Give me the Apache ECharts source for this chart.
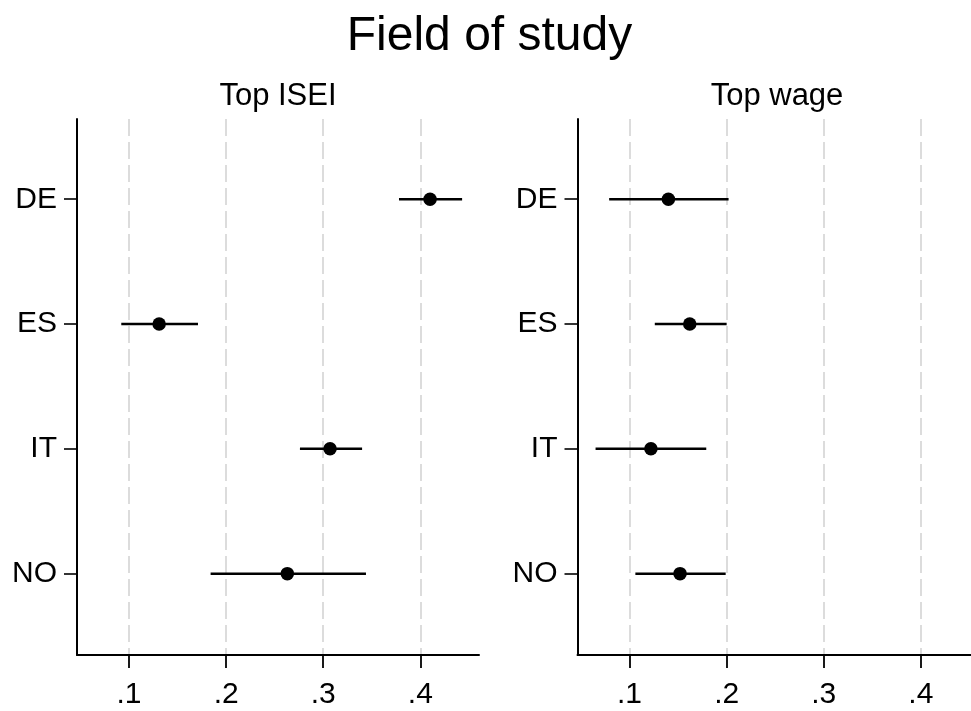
<!DOCTYPE html>
<html>
<head>
<meta charset="utf-8">
<script src="https://cdn.jsdelivr.net/npm/echarts@6/dist/echarts.min.js"></script>
<style>
  html, body { margin: 0; padding: 0; background: #fff; }
  #chart { width: 971px; height: 711px; }
</style>
</head>
<body>
<div id="chart"></div>
<script>
// ---- data ----
const categories = ['DE', 'ES', 'IT', 'NO'];
const panelTitles = ['Top ISEI', 'Top wage'];
const xTicks = [0.1, 0.2, 0.3, 0.4];
const xTickLabels = ['.1', '.2', '.3', '.4'];

const iseiPoint = [0.410, 0.131, 0.307, 0.263];
const iseiLow   = [0.378, 0.092, 0.276, 0.184];
const iseiHigh  = [0.443, 0.171, 0.340, 0.344];

const wagePoint = [0.140, 0.162, 0.122, 0.152];
const wageLow   = [0.079, 0.126, 0.065, 0.106];
const wageHigh  = [0.202, 0.200, 0.179, 0.199];

// ---- chart ----
const FONT = 'Liberation Sans, Arial, Helvetica, sans-serif';
const catPos = categories.map((c, i) => i + 1);

function pts(vals) { return vals.map((v, i) => [v, catPos[i]]); }
function cis(lo, hi) { return lo.map((l, i) => [l, hi[i], catPos[i]]); }

function ciRender(params, api) {
  const a = api.coord([api.value(0), api.value(2)]);
  const b = api.coord([api.value(1), api.value(2)]);
  return {
    type: 'line',
    shape: { x1: a[0], y1: a[1], x2: b[0], y2: b[1] },
    style: { stroke: '#000', lineWidth: 2.5 }
  };
}

const grids = [
  { left: 77, top: 119, width: 402, height: 536, containLabel: false, outerBoundsMode: 'none' },
  { left: 577.5, top: 119, width: 402, height: 536, containLabel: false, outerBoundsMode: 'none' }
];

function xAxisOf(idx) {
  return {
    type: 'value', gridIndex: idx, min: 0.0464, max: 0.4604,
    axisLine: { show: true, onZero: false, lineStyle: { color: '#000', width: 2 } },
    axisTick: { show: true, length: 13, customValues: xTicks, lineStyle: { color: '#000', width: 1.8 } },
    axisLabel: {
      customValues: xTicks, margin: 40, verticalAlign: 'middle',
      fontFamily: FONT, fontSize: 30, color: '#000',
      formatter: v => xTickLabels[xTicks.findIndex(t => Math.abs(t - v) < 1e-9)] || ''
    },
    splitLine: { show: true, lineStyle: { color: '#dcdcdc', width: 2, type: [17, 6] } }
  };
}
function yAxisOf(idx) {
  return {
    type: 'value', gridIndex: idx, min: 0.357, max: 4.652, inverse: true,
    axisLine: { show: true, onZero: false, lineStyle: { color: '#000', width: 2 } },
    axisTick: { show: true, length: 13, customValues: catPos, lineStyle: { color: '#000', width: 1.6 } },
    axisLabel: {
      customValues: catPos, margin: 20,
      fontFamily: FONT, fontSize: 30, color: '#000',
      formatter: v => categories[Math.round(v) - 1] || ''
    },
    splitLine: { show: false }
  };
}

const chart = echarts.init(document.getElementById('chart'), null, { renderer: 'canvas' });
chart.setOption({
  animation: false,
  backgroundColor: '#fff',
  grid: grids,
  xAxis: [xAxisOf(0), xAxisOf(1)],
  yAxis: [yAxisOf(0), yAxisOf(1)],
  graphic: [
    { type: 'text', style: { text: 'Field of study', x: 489.5, y: 37, textAlign: 'center', textVerticalAlign: 'middle', font: '48px ' + FONT, fill: '#000' } },
    { type: 'text', style: { text: panelTitles[0], x: 278, y: 96, textAlign: 'center', textVerticalAlign: 'middle', font: '31px ' + FONT, fill: '#000' } },
    { type: 'text', style: { text: panelTitles[1], x: 777, y: 96, textAlign: 'center', textVerticalAlign: 'middle', font: '31px ' + FONT, fill: '#000' } }
  ],
  series: [
    { type: 'custom', xAxisIndex: 0, yAxisIndex: 0, renderItem: ciRender, data: cis(iseiLow, iseiHigh), z: 2 },
    { type: 'scatter', xAxisIndex: 0, yAxisIndex: 0, data: pts(iseiPoint), symbol: 'circle', symbolSize: 13.5, itemStyle: { color: '#000', opacity: 1 }, z: 3 },
    { type: 'custom', xAxisIndex: 1, yAxisIndex: 1, renderItem: ciRender, data: cis(wageLow, wageHigh), z: 2 },
    { type: 'scatter', xAxisIndex: 1, yAxisIndex: 1, data: pts(wagePoint), symbol: 'circle', symbolSize: 13.5, itemStyle: { color: '#000', opacity: 1 }, z: 3 }
  ]
});
</script>
</body>
</html>
